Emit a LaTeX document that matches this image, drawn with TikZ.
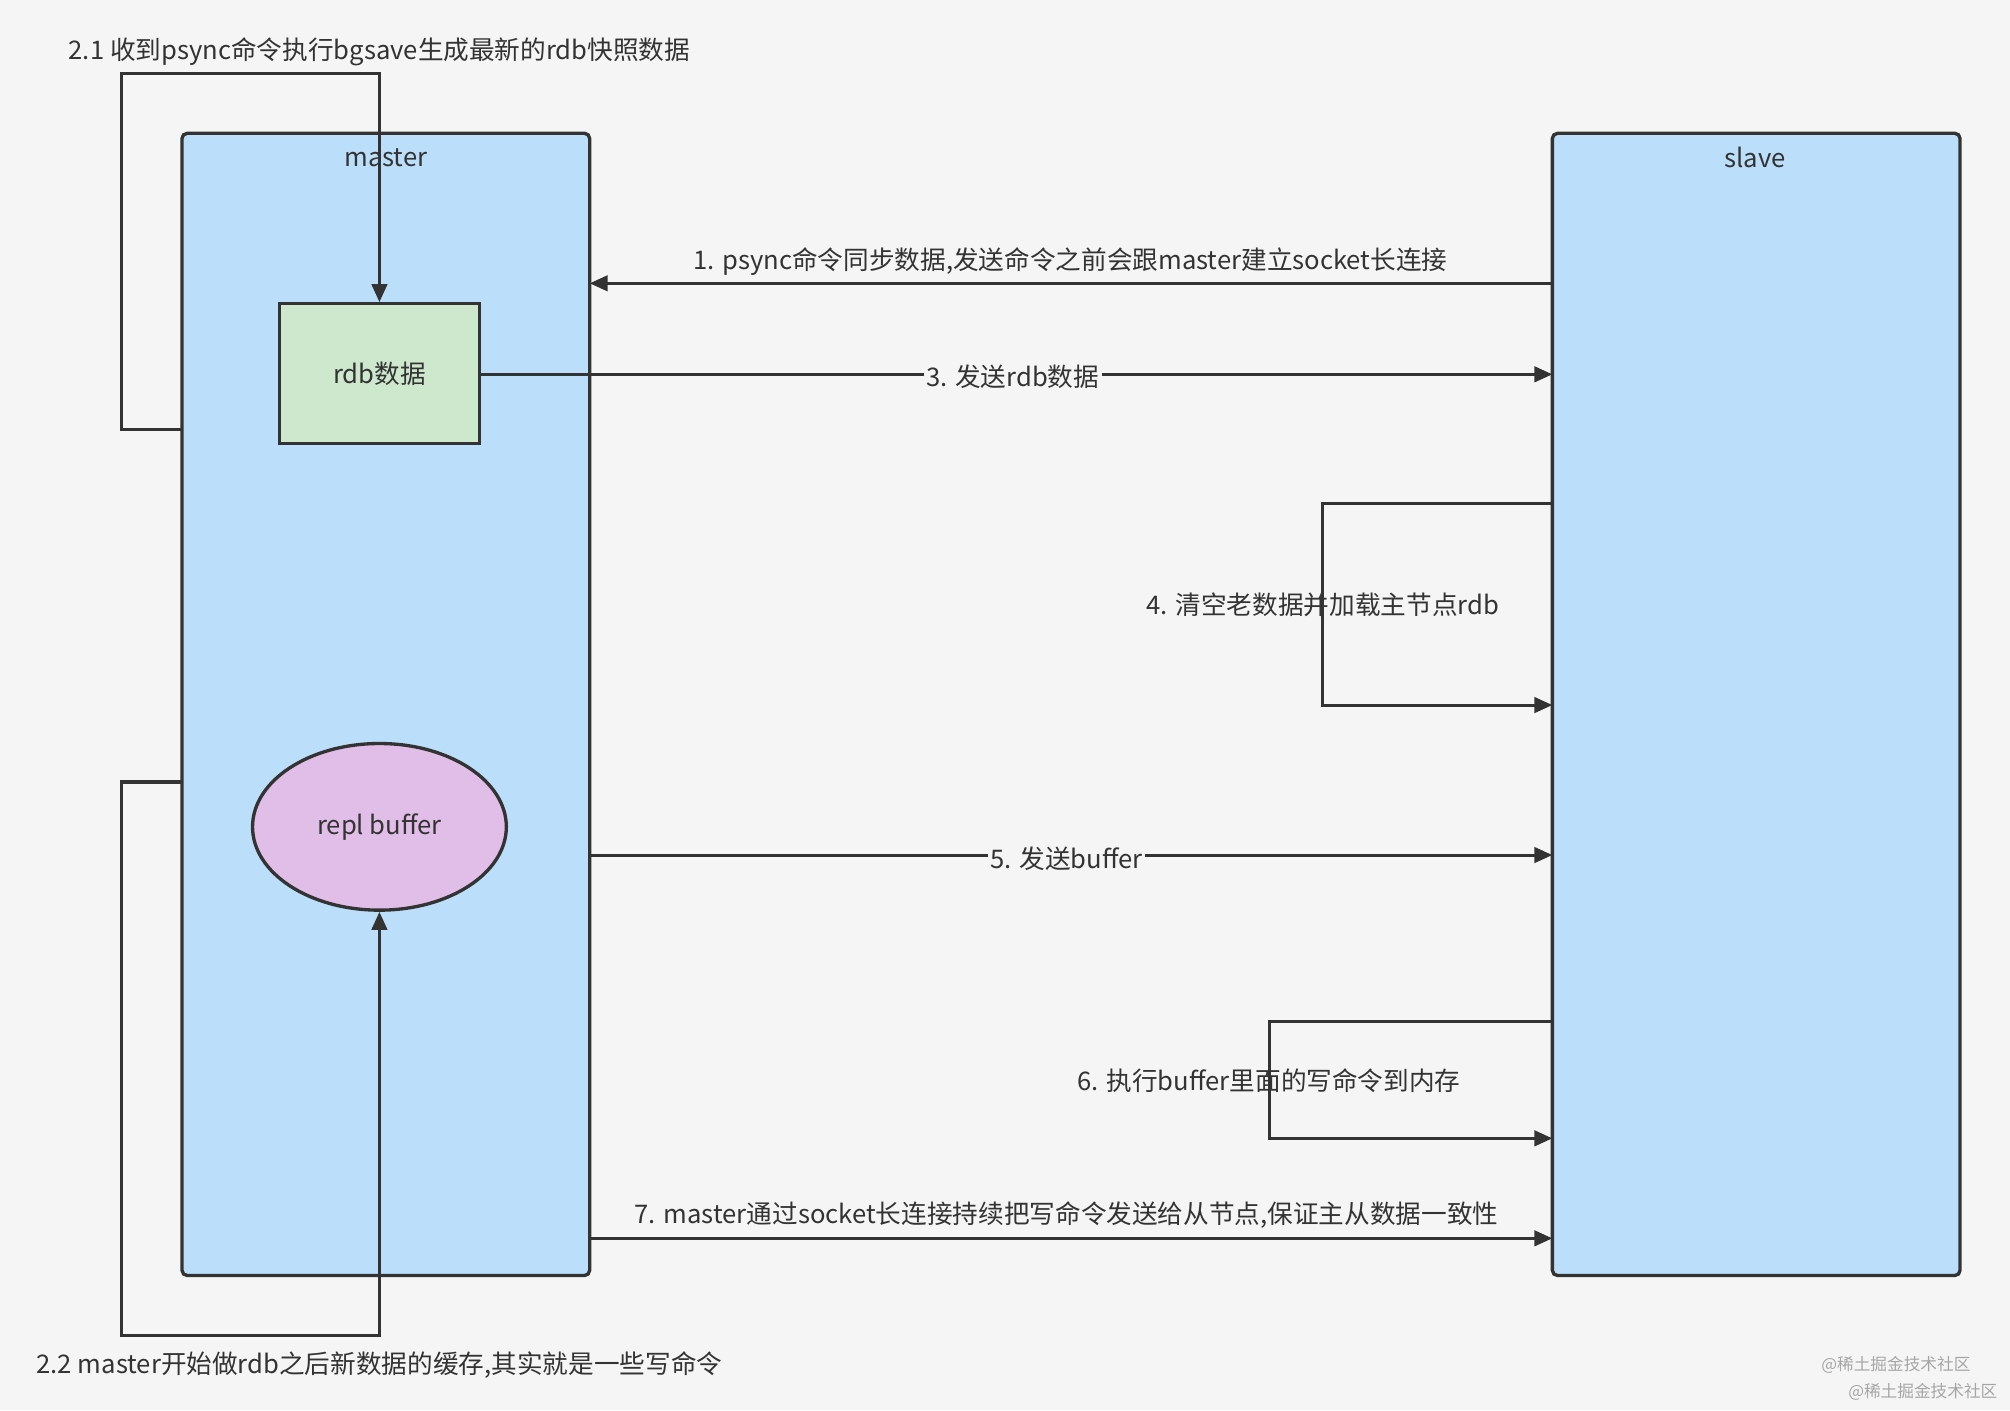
\documentclass[tikz,border=0pt]{standalone}
\usepackage{fontspec}
\setmainfont{Noto Sans CJK SC}
\usetikzlibrary{shapes.geometric,arrows.meta}
\definecolor{bg}{HTML}{F5F5F5}
\definecolor{boxblue}{HTML}{BBDEFB}
\definecolor{boxgreen}{HTML}{CDE8CC}
\definecolor{boxpink}{HTML}{E1BEE7}
\definecolor{ink}{HTML}{333333}
\begin{document}
\begin{tikzpicture}[x=0.5pt,y=-0.5pt,
  every node/.style={font=\fontsize{10}{12}\selectfont,text=ink},
  cont/.style={draw=ink,line width=1.3pt,rounded corners=2pt,fill=boxblue},
  conn/.style={draw=ink,line width=1.2pt,-{Triangle[length=7pt,width=6pt]}},
  lbl/.style={fill=bg,inner sep=1pt}]
\fill[bg] (0,0) rectangle (1568,1100);
\path[use as bounding box] (0,0) rectangle (1568,1100);
\draw[cont] (142,104) rectangle (460,995);
\node[anchor=center] (mlabel) at (301,123) {master};
\draw[cont] (1211,104) rectangle (1529,995);
\node (slabel) at (1369,123) {slave};
\node[draw=ink,line width=1.3pt,fill=boxgreen,minimum width=78pt,minimum height=54.5pt] (rdb) at (296,291.5) {rdb数据};
\node[ellipse,draw=ink,line width=1.3pt,fill=boxpink,minimum width=99pt,minimum height=65pt] (buf) at (296,645) {repl buffer};
% 2.1 loop
\coordinate (a1) at (142,335);
\draw[conn] (a1) -- (95,335) -- (95,57) -- (296,57) -- (rdb.north);
\node (t21) at (296,40) {2.1 收到psync命令执行bgsave生成最新的rdb快照数据};
% 2.2 loop
\coordinate (a2) at (142,610);
\draw[conn] (a2) -- (95,610) -- (95,1042) -- (296,1042) -- (buf.south);
\node (t22) at (296,1065) {2.2 master开始做rdb之后新数据的缓存,其实就是一些写命令};
% 1
\coordinate (s1) at (1211,221); \coordinate (m1) at (460,221);
\draw[conn] (s1) -- (m1);
\node (t1) at (835,204) {1. psync命令同步数据,发送命令之前会跟master建立socket长连接};
% 3
\coordinate (s3) at (1211,292);
\draw[conn] (rdb.east |- s3) -- (s3);
\node[lbl] (t3) at (790,294) {3. 发送rdb数据};
% 4
\coordinate (s4a) at (1211,393); \coordinate (s4b) at (1211,550);
\draw[conn] (s4a) -- (1032,393) -- (1032,550) -- (s4b);
\node (t4) at (1032,472) {4. 清空老数据并加载主节点rdb};
% 5
\coordinate (m5) at (460,667); \coordinate (s5) at (1211,667);
\draw[conn] (m5) -- (s5);
\node[lbl] (t5) at (832,670) {5. 发送buffer};
% 6
\coordinate (s6a) at (1211,797); \coordinate (s6b) at (1211,888);
\draw[conn] (s6a) -- (990,797) -- (990,888) -- (s6b);
\node (t6) at (990,843) {6. 执行buffer里面的写命令到内存};
% 7
\coordinate (m7) at (460,966); \coordinate (s7) at (1211,966);
\draw[conn] (m7) -- (s7);
\node (t7) at (832,948) {7. master通过socket长连接持续把写命令发送给从节点,保证主从数据一致性};
% watermark
\node[text=gray!70,font=\fontsize{6.5}{8}\selectfont] (w1) at (1479,1065) {@稀土掘金技术社区};
\node[text=gray!70,font=\fontsize{6.5}{8}\selectfont] (w2) at (1500,1086) {@稀土掘金技术社区};
\end{tikzpicture}
\end{document}
